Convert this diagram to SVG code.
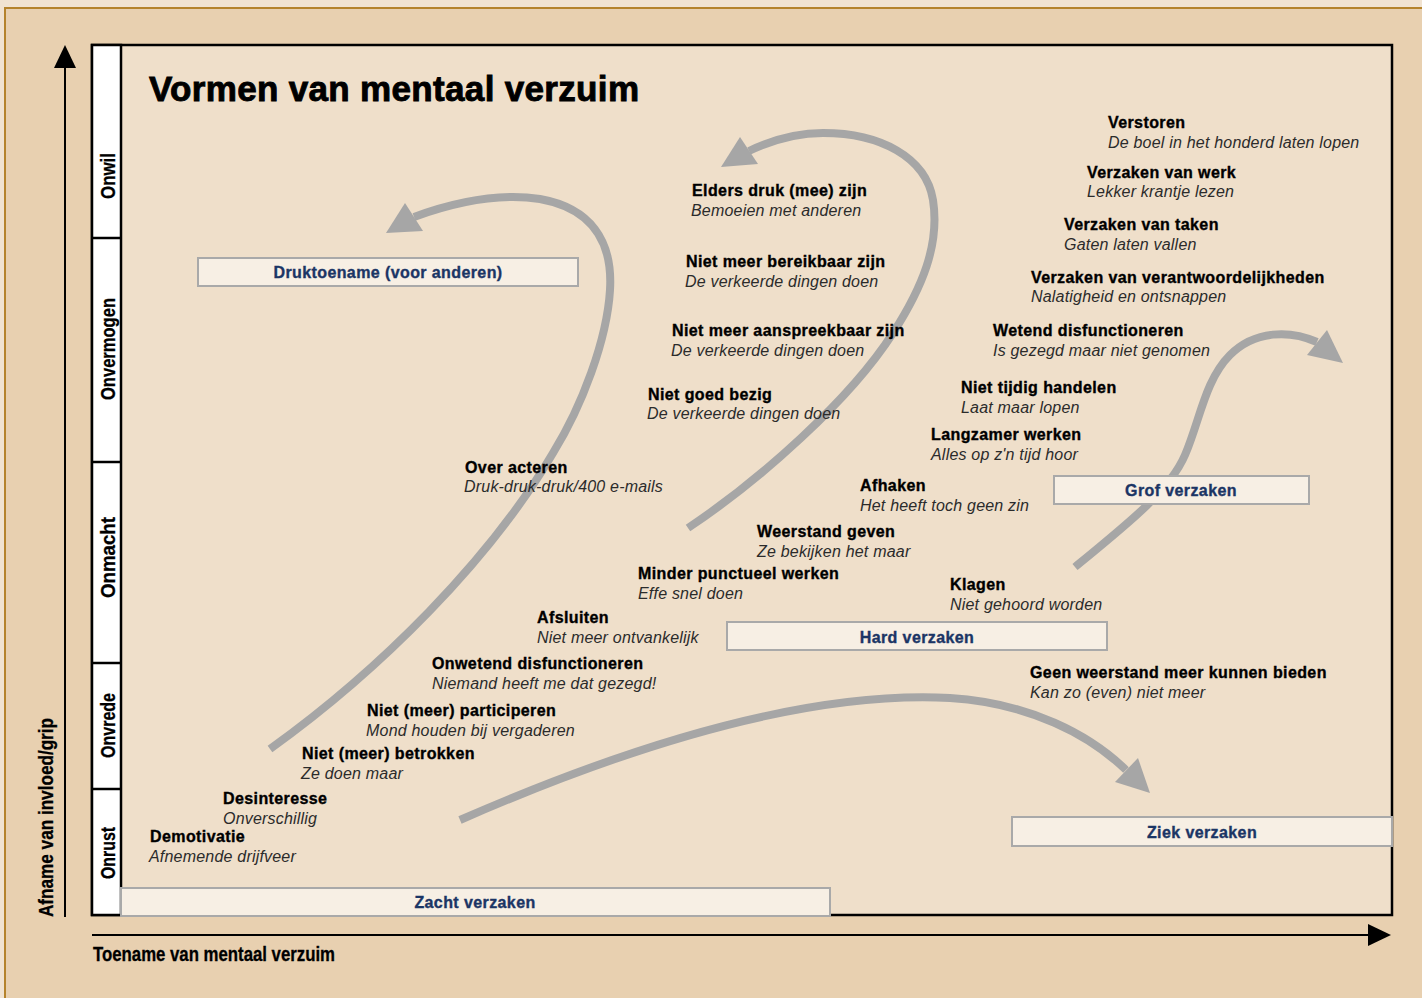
<svg xmlns="http://www.w3.org/2000/svg" width="1422" height="998" viewBox="0 0 1422 998">
<style>
text{font-family:"Liberation Sans",Arial,sans-serif;}
.b{font-weight:bold;font-size:16px;fill:#000;stroke:#000;stroke-width:0.35px;letter-spacing:0.4px;}
.i{font-style:italic;font-size:16px;fill:#2b2b2b;letter-spacing:0.2px;}
.box{fill:#f7efe4;stroke:#a9a9a9;stroke-width:2;}
.bl{font-weight:bold;font-size:16px;fill:#1b3565;stroke:#1b3565;stroke-width:0.35px;letter-spacing:0.4px;text-anchor:middle;}
.col{font-weight:bold;font-size:20px;fill:#000;stroke:#000;stroke-width:0.3px;}
.arr{fill:none;stroke:#a6a6a6;stroke-width:8;}
.head{fill:#a6a6a6;}
.ax{stroke:#000;stroke-width:2;fill:none;}
</style>
<rect x="0" y="0" width="1422" height="998" fill="#f1e3d1"/>
<rect x="5" y="8" width="1430" height="1000" fill="#e8d0b0" stroke="#b5832c" stroke-width="2"/>

<g id="axes">
<line class="ax" x1="65" y1="917" x2="65" y2="62"/>
<polygon points="65,45 54,68 76,68" fill="#000"/>
<line class="ax" x1="92" y1="935" x2="1372" y2="935"/>
<polygon points="1391,935 1368,924 1368,946" fill="#000"/>
<text class="col" font-size="18" textLength="199" lengthAdjust="spacingAndGlyphs" transform="translate(53,917) rotate(-90)">Afname van invloed/grip</text>
<text class="col" x="93" y="961" font-size="17" textLength="242" lengthAdjust="spacingAndGlyphs">Toename van mentaal verzuim</text>
</g>

<g id="frame">
<rect x="92" y="45" width="1300" height="870" fill="#efdfca" stroke="#000" stroke-width="2.5"/>
<rect x="92" y="45" width="29" height="870" fill="#fff" stroke="#000" stroke-width="2.5"/>
<line x1="92" y1="238" x2="121" y2="238" stroke="#000" stroke-width="2.5"/>
<line x1="92" y1="462" x2="121" y2="462" stroke="#000" stroke-width="2.5"/>
<line x1="92" y1="663" x2="121" y2="663" stroke="#000" stroke-width="2.5"/>
<line x1="92" y1="789" x2="121" y2="789" stroke="#000" stroke-width="2.5"/>
<text class="col" textLength="46" lengthAdjust="spacingAndGlyphs" transform="translate(115,199) rotate(-90)">Onwil</text>
<text class="col" textLength="102" lengthAdjust="spacingAndGlyphs" transform="translate(115,400) rotate(-90)">Onvermogen</text>
<text class="col" textLength="81" lengthAdjust="spacingAndGlyphs" transform="translate(115,598) rotate(-90)">Onmacht</text>
<text class="col" textLength="65" lengthAdjust="spacingAndGlyphs" transform="translate(115,758) rotate(-90)">Onvrede</text>
<text class="col" textLength="52" lengthAdjust="spacingAndGlyphs" transform="translate(115,879) rotate(-90)">Onrust</text>
</g>

<text id="title" x="149" y="101" font-weight="bold" font-size="35" textLength="490" lengthAdjust="spacing" fill="#000" stroke="#000" stroke-width="0.9">Vormen van mentaal verzuim</text>

<g id="connectors">
<path class="arr" d="M270,749 C380,670 490,560 553,453 C582,406 607,340 610,290 C613,240 590,208 540,199 C500,193 455,202 414,217"/>
<polygon class="head" points="386,233 405,203 423,231"/>
<path class="arr" d="M688,528 C760,480 850,400 893,333 C922,288 940,245 933,200 C926,157 880,133 823,133 C795,133 772,140 749,151"/>
<polygon class="head" points="721,167 740,137 758,164"/>
<path class="arr" d="M1075,567 C1130,522 1170,490 1185,455 C1200,420 1205,380 1230,355 C1255,330 1290,330 1317,342"/>
<polygon class="head" points="1343,363 1327,330 1307,355"/>
<path class="arr" d="M460,820 C620,750 800,690 950,698 C1030,703 1090,735 1126,770"/>
<polygon class="head" points="1150,793 1138,758 1115,782"/>
</g>

<g id="box-druktoename"><rect class="box" x="198" y="258" width="380" height="28"/><text class="bl" x="388" y="278">Druktoename (voor anderen)</text></g>
<g id="box-grof"><rect class="box" x="1054" y="476" width="255" height="28"/><text class="bl" x="1181" y="496">Grof verzaken</text></g>
<g id="box-hard"><rect class="box" x="727" y="622" width="380" height="28"/><text class="bl" x="917" y="643">Hard verzaken</text></g>
<g id="box-ziek"><rect class="box" x="1012" y="817" width="380" height="29"/><text class="bl" x="1202" y="838">Ziek verzaken</text></g>
<g id="box-zacht"><rect class="box" x="121" y="888" width="709" height="28"/><text class="bl" x="475" y="908">Zacht verzaken</text></g>

<g id="n-verstoren"><text class="b" x="1108" y="128">Verstoren</text><text class="i" x="1108" y="148">De boel in het honderd laten lopen</text></g>
<g id="n-werk"><text class="b" x="1087" y="178">Verzaken van werk</text><text class="i" x="1087" y="197">Lekker krantje lezen</text></g>
<g id="n-taken"><text class="b" x="1064" y="230">Verzaken van taken</text><text class="i" x="1064" y="250">Gaten laten vallen</text></g>
<g id="n-verantw"><text class="b" x="1031" y="283">Verzaken van verantwoordelijkheden</text><text class="i" x="1031" y="302">Nalatigheid en ontsnappen</text></g>
<g id="n-wetend"><text class="b" x="993" y="336">Wetend disfunctioneren</text><text class="i" x="993" y="356">Is gezegd maar niet genomen</text></g>
<g id="n-tijdig"><text class="b" x="961" y="393">Niet tijdig handelen</text><text class="i" x="961" y="413">Laat maar lopen</text></g>
<g id="n-langzamer"><text class="b" x="931" y="440">Langzamer werken</text><text class="i" x="931" y="460">Alles op z'n tijd hoor</text></g>
<g id="n-afhaken"><text class="b" x="860" y="491">Afhaken</text><text class="i" x="860" y="511">Het heeft toch geen zin</text></g>
<g id="n-weerstand"><text class="b" x="757" y="537">Weerstand geven</text><text class="i" x="757" y="557">Ze bekijken het maar</text></g>
<g id="n-punctueel"><text class="b" x="638" y="579">Minder punctueel werken</text><text class="i" x="638" y="599">Effe snel doen</text></g>
<g id="n-klagen"><text class="b" x="950" y="590">Klagen</text><text class="i" x="950" y="610">Niet gehoord worden</text></g>
<g id="n-afsluiten"><text class="b" x="537" y="623">Afsluiten</text><text class="i" x="537" y="643">Niet meer ontvankelijk</text></g>
<g id="n-onwetend"><text class="b" x="432" y="669">Onwetend disfunctioneren</text><text class="i" x="432" y="689">Niemand heeft me dat gezegd!</text></g>
<g id="n-participeren"><text class="b" x="367" y="716">Niet (meer) participeren</text><text class="i" x="366" y="736">Mond houden bij vergaderen</text></g>
<g id="n-betrokken"><text class="b" x="302" y="759">Niet (meer) betrokken</text><text class="i" x="301" y="779">Ze doen maar</text></g>
<g id="n-desinteresse"><text class="b" x="223" y="804">Desinteresse</text><text class="i" x="223" y="824">Onverschillig</text></g>
<g id="n-demotivatie"><text class="b" x="150" y="842">Demotivatie</text><text class="i" x="149" y="862">Afnemende drijfveer</text></g>
<g id="n-overacteren"><text class="b" x="465" y="473">Over acteren</text><text class="i" x="464" y="492">Druk-druk-druk/400 e-mails</text></g>
<g id="n-goedbezig"><text class="b" x="648" y="400">Niet goed bezig</text><text class="i" x="647" y="419">De verkeerde dingen doen</text></g>
<g id="n-aanspreekbaar"><text class="b" x="672" y="336">Niet meer aanspreekbaar zijn</text><text class="i" x="671" y="356">De verkeerde dingen doen</text></g>
<g id="n-bereikbaar"><text class="b" x="686" y="267">Niet meer bereikbaar zijn</text><text class="i" x="685" y="287">De verkeerde dingen doen</text></g>
<g id="n-elders"><text class="b" x="692" y="196">Elders druk (mee) zijn</text><text class="i" x="691" y="216">Bemoeien met anderen</text></g>
<g id="n-geenweerstand"><text class="b" x="1030" y="678">Geen weerstand meer kunnen bieden</text><text class="i" x="1030" y="698">Kan zo (even) niet meer</text></g>
</svg>
